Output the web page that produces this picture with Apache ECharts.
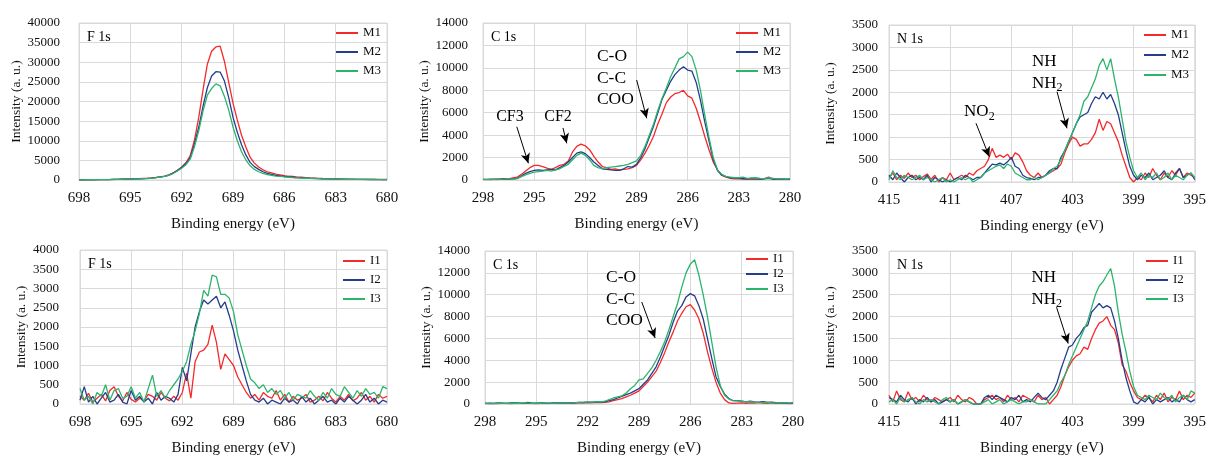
<!DOCTYPE html>
<html>
<head>
<meta charset="utf-8">
<script src="https://cdn.jsdelivr.net/npm/echarts@6/dist/echarts.min.js"></script>
<style>
html,body{margin:0;padding:0;background:#fff;}
#chart{width:1209px;height:457px;}
</style>
</head>
<body>
<div id="chart"></div>
<script>
// ---------------- DATA ----------------
const F_ENERGY = [698,697.75,697.5,697.25,697,696.75,696.5,696.25,696,695.75,695.5,695.25,695,694.75,694.5,694.25,694,693.75,693.5,693.25,693,692.75,692.5,692.25,692,691.75,691.5,691.25,691,690.75,690.5,690.25,690,689.75,689.5,689.25,689,688.75,688.5,688.25,688,687.75,687.5,687.25,687,686.75,686.5,686.25,686,685.75,685.5,685.25,685,684.75,684.5,684.25,684,683.75,683.5,683.25,683,682.75,682.5,682.25,682,681.75,681.5,681.25,681,680.75,680.5,680.25,680];
const C_ENERGY = [298,297.75,297.5,297.25,297,296.75,296.5,296.25,296,295.75,295.5,295.25,295,294.75,294.5,294.25,294,293.75,293.5,293.25,293,292.75,292.5,292.25,292,291.75,291.5,291.25,291,290.75,290.5,290.25,290,289.75,289.5,289.25,289,288.75,288.5,288.25,288,287.75,287.5,287.25,287,286.75,286.5,286.25,286,285.75,285.5,285.25,285,284.75,284.5,284.25,284,283.75,283.5,283.25,283,282.75,282.5,282.25,282,281.75,281.5,281.25,281,280.75,280.5,280.25,280];
const N_ENERGY = [415,414.75,414.5,414.25,414,413.75,413.5,413.25,413,412.75,412.5,412.25,412,411.75,411.5,411.25,411,410.75,410.5,410.25,410,409.75,409.5,409.25,409,408.75,408.5,408.25,408,407.75,407.5,407.25,407,406.75,406.5,406.25,406,405.75,405.5,405.25,405,404.75,404.5,404.25,404,403.75,403.5,403.25,403,402.75,402.5,402.25,402,401.75,401.5,401.25,401,400.75,400.5,400.25,400,399.75,399.5,399.25,399,398.75,398.5,398.25,398,397.75,397.5,397.25,397,396.75,396.5,396.25,396,395.75,395.5,395.25,395];

const M_NAMES = ['M1','M2','M3'];
const I_NAMES = ['I1','I2','I3'];

// F 1s, M samples
const F_M1 = [50,60,40,80,70,90,100,120,150, 180,200,220,260, 300,330,380,420, 520,650,800,1000, 1300,1800,2500,3300, 4400,6200,10200,16000, 23000,29500,32800,33900, 34100,30200,24900,19600, 15300,11400,8400,5800, 4300,3300,2600,2100, 1800,1500,1300,1100, 950,900,750,700, 600,520,480,420, 380,350,300,280, 250,230,200,200, 180,170,160,150, 150,140,130,130];
const F_M2 = [40,50,60,50,80,90,90,110,140, 160,190,210,240, 280,320,360,400, 500,620,780,950, 1250,1750,2400,3200, 4200,5700,9200,13500, 18800,23500,26500,27600, 27500,25200,21000,16000, 12200,9000,6400,4500, 3400,2700,2100,1700, 1450,1200,1050,900, 800,700,620,560, 500,440,400,360, 320,290,260,240, 220,200,180,170, 160,150,140,130, 130,120,120,110];
const F_M3 = [50,30,60,70,60,90,110,100,130, 150,180,200,230, 260,300,340,380, 470,580,730,900, 1200,1650,2300,3000, 3900,5300,8500,12600, 17600,21600,23300,24500, 24000,21300,17800,13500, 10000,7200,5100,3600, 2700,2100,1700,1400, 1200,1000,900,780, 700,620,560,500, 450,400,360,330, 300,270,250,230, 210,190,170,160, 150,140,130,120, 120,110,110,100];

// C 1s, M samples
const C_M1 = [60,40,80,50,90,120,100,180,250, 500,800,1100,1300, 1300,1200,1050,950, 1100,1300,1400,1700, 2500,3000,3200,3050, 2700,2100,1600,1200, 1100,950,1000,900, 950,1000,1100,1300, 1800,2400,3100,3900, 5000,5900,6900,7400, 7700,7800,8000,7500, 7300,6400,5200,3900, 2700,1600,900,400, 250,150,100,120, 80,100,60,90, 70,120,250,80, 60,90,50,70];
const C_M2 = [50,60,40,70,50,80,60,100,150, 350,600,750,850, 900,850,900,950, 900,1100,1300,1600, 2000,2400,2500,2350, 2000,1600,1300,1000, 950,900,850,850, 1000,1200,1150,1400, 2000,2800,3800,4800, 6000,7200,8000,8800, 9400,9800,10100,9800, 9700,8700,7100,5200, 3500,1800,850,450, 300,200,180,150, 120,90,150,100, 80,110,140,90, 70,100,60,80];
const C_M3 = [40,50,70,40,60,70,90,80,120, 300,450,600,700, 750,800,850,800, 900,1000,1200,1400, 1800,2200,2400,2200, 1800,1300,1100,1000, 1100,1150,1200,1250, 1300,1400,1550,1700, 2200,3000,4000,5000, 6200,7300,8200,9200, 10000,10800,11000,11400, 11000,9800,8000,5800, 3800,2000,900,500, 300,250,200,200, 250,150,180,200, 150,120,200,150, 100,120,90,100];

// N 1s, M samples
const N_M1 = [100,200,50,150, 80,200,100,150, 50,120,180,60, 150,0,100,50, 200,50,100,150, 100,200,150,250, 300,350,500,750, 550,600,550,620, 500,650,600,450, 250,150,100,200, 100,150,200,250, 300,400,650,850, 1000,950,800,850, 850,950,1100,1400, 1150,1350,1300,1100, 900,600,350,100, 0,100,50,200, 100,300,150,50, 200,100,250,150, 300,100,200,150, 100];
const N_M2 = [150,50,200,100, 0,100,150,50, 100,50,150,0, 100,50,0,50, 0,50,100,50, 150,100,50,100, 100,200,300,400, 380,420,380,450, 550,350,300,150, 100,80,50,100, 100,150,250,300, 300,550,700,900, 1100,1300,1450,1500, 1550,1750,1900,1850, 2000,1850,1950,1750, 1500,1100,700,350, 150,50,150,100, 200,50,100,150, 250,100,50,200, 300,100,150,200, 50];
const N_M3 = [50,250,100,50, 150,100,50,100, 150,50,100,50, 0,50,100,0, 50,0,50,100, 50,100,0,50, 100,200,250,300, 350,380,300,400, 350,200,150,100, 50,50,100,50, 100,150,200,300, 350,500,700,900, 1100,1300,1500,1800, 1900,2100,2300,2600, 2750,2500,2750,2300, 1900,1400,900,550, 250,100,200,50, 150,100,200,50, 100,200,50,150, 100,50,150,200, 100];

// F 1s, I samples
const F_I1 = [200,100,280,50,150,250,80,350,450, 200,80,300,120, 50,150,80,250, 200,100,300,150, 80,200,100,300, 800,150,1100,1350, 1400,1550,2050,1600, 900,1300,1150,1000, 700,500,300,150, 250,100,300,200, 150,350,100,250, 50,200,100,150, 250,50,100,200, 80,300,150,50, 200,100,250,80, 150,300,100,200, 50,250,150,200];
const F_I2 = [100,450,50,200,0,150,300,50,100, 250,50,0,350, 100,200,50,150, 0,300,100,200, 150,50,250,950, 600,1300,2000,2400, 2700,2600,2700,2800, 2500,2650,2300,1900, 1400,1000,600,250, 100,50,150,0, 100,50,0,150, 50,100,0,200, 50,150,0,100, 200,50,100,0, 150,50,200,100, 0,100,250,50, 150,0,100,50];
const F_I3 = [400,100,200,0,300,200,500,100,350, 400,150,200,450, 150,300,50,400, 750,200,350,150, 350,500,650,850, 1100,1550,1900,2350, 2950,2800,3350,3300, 2850,2850,2750,2400, 1800,1400,1000,650, 550,400,500,300, 400,250,350,150, 300,100,250,200, 150,350,200,100, 300,150,400,250, 200,450,300,150, 350,200,400,250, 300,150,450,400];

// C 1s, I samples
const C_I1 = [50,30,60,40,80,50,40,60,70, 50,80,60,40, 70,50,60,80, 60,90,70,100, 80,120,100,130, 110,140,120,150, 200,300,400,500, 650,800,1000,1200, 1600,2000,2500,3000, 3800,4700,5700,6600, 7600,8300,8900,9100, 8600,7800,6500,4800, 3300,2000,1000,400, 100,50,80,100, 60,100,80,120, 90,60,100,70, 50,80,40,60];
const C_I2 = [60,80,50,100,70,60,90,120,80, 60,150,80,70, 100,80,60,110, 90,120,80,130, 100,150,130,170, 160,200,180,200, 300,400,550,700, 850,1000,1200,1400, 1800,2200,2800,3400, 4300,5300,6300,7500, 8500,9000,9800,10100, 9900,9000,7800,6000, 4200,2500,1600,900, 500,300,300,250, 200,250,200,180, 220,150,180,120, 100,130,80,100];
const C_I3 = [40,60,30,80,50,70,60,90,70, 100,80,60,90, 70,100,80,60, 90,110,80,100, 120,150,180,200, 150,220,200,250, 400,550,650,750, 1000,1400,1700,2200, 2300,2800,3300,4000, 4800,5700,6800,8000, 9200,10700,12000,12800, 13200,11800,10000,8000, 5700,3400,1700,800, 450,300,280,250, 200,220,180,150, 130,160,110,100, 90,120,80,100];

// N 1s, I samples
const N_I1 = [200,50,300,100, 50,280,100,150, 50,200,100,50, 150,100,50,100, 150,50,200,100, 50,150,100,0, 0,100,150,200, 100,150,50,200, 100,150,50,200, 150,100,50,200, 100,150,0,100, 200,400,650,850, 1000,1100,1150,1300, 1250,1500,1700,1850, 1900,2000,1800,1700, 1400,900,750,500, 300,150,100,200, 150,50,200,100, 250,50,150,100, 300,100,200,150, 250];
const N_I2 = [150,100,50,200, 100,50,150,0, 100,50,150,50, 100,0,50,100, 50,100,0,50, 100,50,0,0, 0,150,200,100, 200,150,100,50, 150,100,200,50, 100,50,150,250, 150,100,200,300, 500,800,1050,1300, 1350,1500,1600,1750, 1800,2100,2200,2300, 2200,2250,2200,1900, 1500,1000,600,300, 50,0,100,50, 150,0,100,50, 100,150,50,100, 50,200,100,50, 100];
const N_I3 = [50,100,0,150, 50,100,150,50, 0,100,50,100, 50,0,100,150, 50,100,0,50, 100,50,0,0, 0,50,100,0, 50,100,0,50, 100,50,0,50, 50,100,50,0, 0,0,100,200, 300,500,650,900, 1100,1300,1500,1700, 1900,2200,2500,2700, 2800,2950,3100,2700, 2100,1600,1200,750, 400,200,150,100, 200,150,100,250, 150,100,200,50, 150,200,100,300, 250];

// ---------------- LAYOUT ----------------
const FONT = '"Liberation Serif", "Times New Roman", serif';
const COLORS = ['#f42a2a', '#253e8c', '#2cb46c'];
const GRIDS = [
  {left: 79,  top: 23,  width: 308, height: 157},
  {left: 483, top: 23,  width: 307, height: 157},
  {left: 889, top: 25,  width: 308, height: 157},
  {left: 80,  top: 250, width: 307, height: 156},
  {left: 485, top: 251, width: 308, height: 156},
  {left: 889, top: 251, width: 309, height: 155}
];
const LEGENDS = [
  {left: 336, top: 26, gap: 5},
  {left: 736, top: 26, gap: 5},
  {left: 1144, top: 28, gap: 6},
  {left: 343, top: 254, gap: 5},
  {left: 746, top: 252, gap: 1},
  {left: 1146, top: 254, gap: 5}
];
const YLABEL_MARGIN = [19, 15, 11, 21, 15, 11];

const PANELS = [
  {energy: F_ENERGY, data: [F_M1, F_M2, F_M3], names: M_NAMES, base: 680, span: 18, step: 3, yMax: 40000, yStep: 5000, label: 'F 1s',
   arrows: [], notes: []},
  {energy: C_ENERGY, data: [C_M1, C_M2, C_M3], names: M_NAMES, base: 280, span: 18, step: 3, yMax: 14000, yStep: 2000, label: 'C 1s',
   arrows: [[296.02, 4750, 295.34, 1490], [293.31, 4640, 293.09, 3270], [288.99, 8917, 288.40, 5500]],
   notes: [
     {e: 296.42, i: 5618, text: 'CF3', align: 'center', size: 16},
     {e: 293.60, i: 5618, text: 'CF2', align: 'center', size: 16},
     {e: 291.32, i: 9095, text: 'C-O\nC-C\nCOO', align: 'left', size: 17.5}
   ]},
  {energy: N_ENERGY, data: [N_M1, N_M2, N_M3], names: M_NAMES, base: 395, span: 20, step: 4, yMax: 3500, yStep: 500, label: 'N 1s',
   arrows: [[409.31, 1309, 408.44, 564], [404.01, 2013, 403.36, 1197]],
   notes: [
     {e: 409.09, i: 1560, text: 'NO{s|2}', align: 'center', size: 17},
     {e: 405.65, i: 2441, text: 'NH\nNH{s|2}', align: 'left', size: 17}
   ]},
  {energy: F_ENERGY, data: [F_I1, F_I2, F_I3], names: I_NAMES, base: 680, span: 18, step: 3, yMax: 4000, yStep: 500, label: 'F 1s',
   arrows: [], notes: []},
  {energy: C_ENERGY, data: [C_I1, C_I2, C_I3], names: I_NAMES, base: 280, span: 18, step: 3, yMax: 14000, yStep: 2000, label: 'C 1s',
   arrows: [[288.84, 9333, 288.06, 6040]],
   notes: [
     {e: 290.93, i: 9602, text: 'C-O\nC-C\nCOO', align: 'left', size: 17.5}
   ]},
  {energy: N_ENERGY, data: [N_I1, N_I2, N_I3], names: I_NAMES, base: 395, span: 20, step: 4, yMax: 3500, yStep: 500, label: 'N 1s',
   arrows: [[404.04, 2213, 403.28, 1384]],
   notes: [
     {e: 405.68, i: 2642, text: 'NH\nNH{s|2}', align: 'left', size: 17}
   ]}
];

// ---------------- BUILD ----------------
const chart = echarts.init(document.getElementById('chart'), null, {renderer: 'canvas'});
const grid = [], xAxis = [], yAxis = [], series = [], legend = [];

PANELS.forEach((p, k) => {
  const g = GRIDS[k];
  grid.push(Object.assign({show: true, borderColor: '#d9d9d9', borderWidth: 1, backgroundColor: 'transparent', containLabel: false}, g));
  xAxis.push({
    gridIndex: k, type: 'value', min: 0, max: p.span, interval: p.step, inverse: true,
    name: 'Binding energy (eV)', nameLocation: 'middle', nameGap: 37,
    nameTextStyle: {fontFamily: FONT, fontSize: 15, color: '#111'},
    axisLine: {show: true, onZero: false, lineStyle: {color: '#d9d9d9'}},
    axisTick: {show: false},
    splitLine: {show: true, lineStyle: {color: '#d9d9d9', width: 1}},
    axisLabel: {fontFamily: FONT, fontSize: 15, color: '#111', margin: 11,
      formatter: (v) => String(Math.round(v + p.base))}
  });
  yAxis.push({
    gridIndex: k, type: 'value', min: 0, max: p.yMax, interval: p.yStep,
    name: 'Intensity (a. u.)', nameLocation: 'middle', nameGap: 52,
    nameTextStyle: {fontFamily: FONT, fontSize: 13.5, color: '#111'},
    axisLine: {show: false}, axisTick: {show: false},
    splitLine: {show: true, lineStyle: {color: '#d9d9d9', width: 1}},
    axisLabel: {fontFamily: FONT, fontSize: 13, color: '#111', margin: YLABEL_MARGIN[k],
      formatter: (v) => String(v)}
  });
  p.data.forEach((vals, j) => {
    const s = {
      type: 'line', name: p.names[j], xAxisIndex: k, yAxisIndex: k,
      data: p.energy.map((e, i) => [e - p.base, vals[i]]),
      symbol: 'none', showSymbol: false,
      lineStyle: {color: COLORS[j], width: 1.3},
      itemStyle: {color: COLORS[j]},
      emphasis: {disabled: true},
      animation: false, z: 2
    };
    if (j === 0 && p.arrows.length) {
      s.markLine = {
        silent: true, animation: false,
        symbol: ['none', 'arrow'], symbolSize: [7, 10],
        lineStyle: {color: '#000', width: 1, type: 'solid'},
        label: {show: false},
        emphasis: {disabled: true},
        data: p.arrows.map(a => [{coord: [a[0] - p.base, a[1]]}, {coord: [a[2] - p.base, a[3]]}])
      };
    }
    series.push(s);
  });
  const L = LEGENDS[k];
  legend.push({
    data: p.names.map((n, j) => ({name: n, icon: 'rect', itemStyle: {color: COLORS[j]}})),
    orient: 'vertical', left: L.left, top: L.top, padding: 0,
    itemWidth: 22, itemHeight: 2, itemGap: L.gap, selectedMode: false,
    textStyle: {fontFamily: FONT, fontSize: 13, color: '#111', lineHeight: 14}
  });
});

chart.setOption({
  animation: false,
  backgroundColor: '#fff',
  grid, xAxis, yAxis, series, legend
});

// annotations placed from data coordinates
const graphics = [];
PANELS.forEach((p, k) => {
  const g = GRIDS[k];
  graphics.push({
    type: 'text', x: g.left + 8, y: g.top + 14, silent: true,
    style: {text: p.label, fontFamily: FONT, fontSize: 14, fill: '#000', align: 'left', verticalAlign: 'middle'}
  });
  p.notes.forEach(n => {
    const pt = chart.convertToPixel({gridIndex: k}, [n.e - p.base, n.i]);
    graphics.push({
      type: 'text', x: pt[0], y: pt[1], silent: true,
      style: {
        text: n.text, fontFamily: FONT, fontSize: n.size, fill: '#000',
        align: n.align, verticalAlign: 'middle', lineHeight: 21.5,
        rich: {s: {fontFamily: FONT, fontSize: 12, fill: '#000', verticalAlign: 'bottom', lineHeight: 21.5}}
      }
    });
  });
});
chart.setOption({graphic: graphics});
</script>
</body>
</html>
